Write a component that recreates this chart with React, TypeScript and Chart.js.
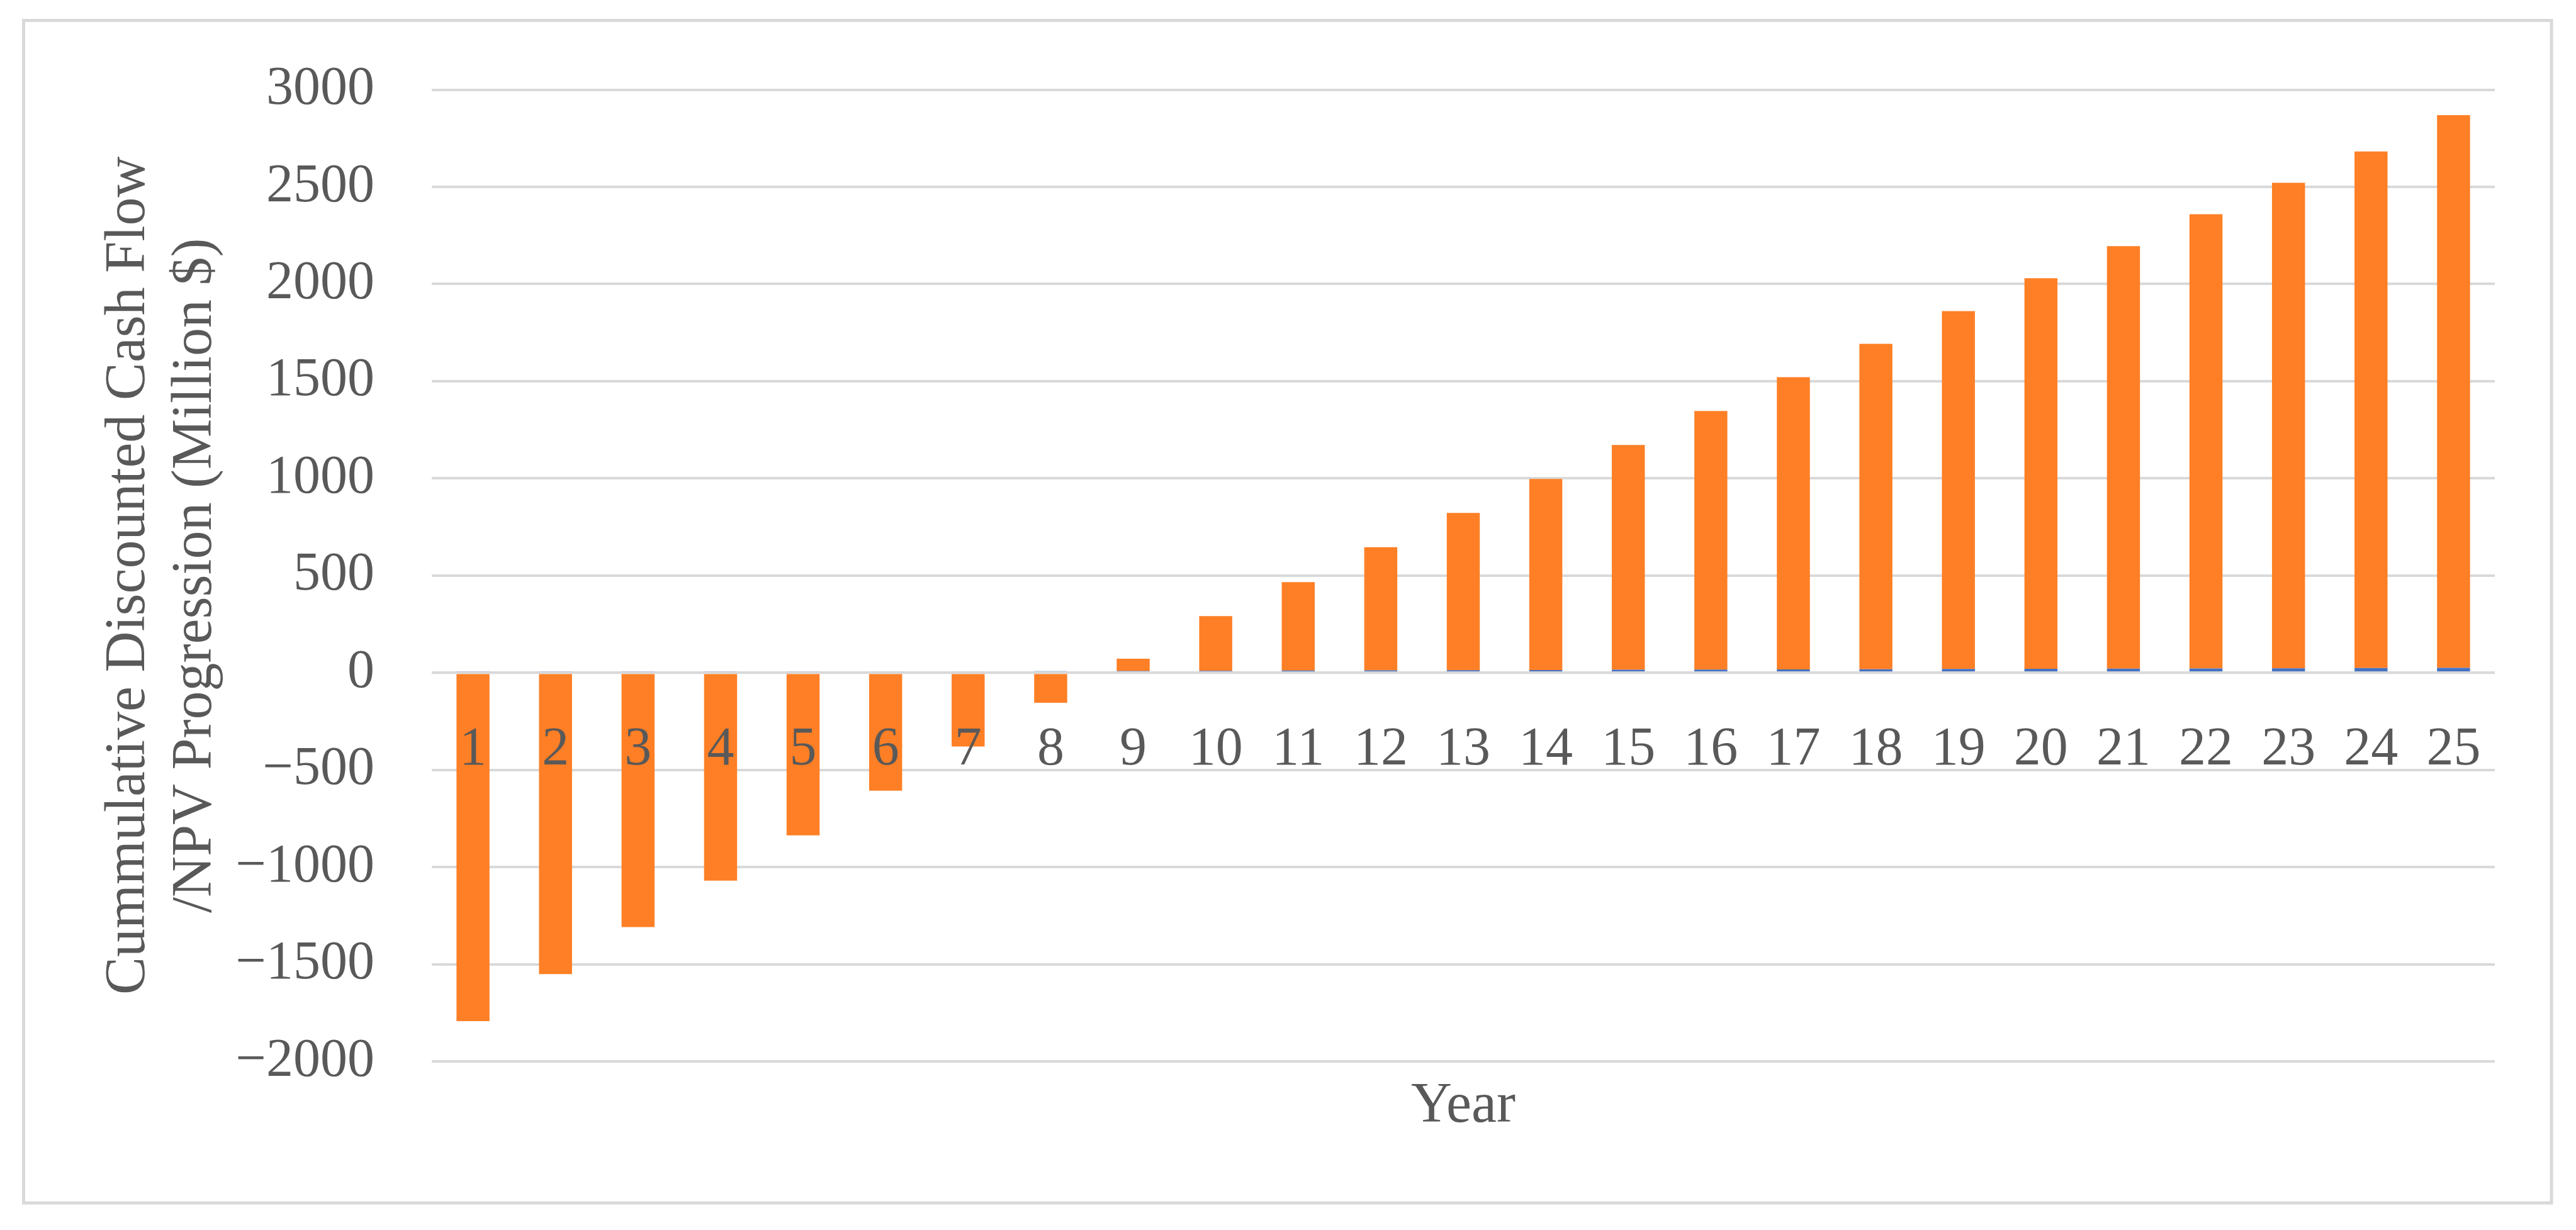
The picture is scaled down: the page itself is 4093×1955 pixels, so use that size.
import React, { useEffect, useRef } from 'react';
import { Chart, registerables } from 'chart.js';

Chart.register(...registerables);

// ---- data ----
const years = ['1', '2', '3', '4', '5', '6', '7', '8', '9', '10', '11', '12', '13', '14', '15', '16', '17', '18', '19', '20', '21', '22', '23', '24', '25'];
const yearSeries = [1, 2, 3, 4, 5, 6, 7, 8, 9, 10, 11, 12, 13, 14, 15, 16, 17, 18, 19, 20, 21, 22, 23, 24, 25];
const cumulativeDCF = [-1793, -1551, -1309, -1070, -837, -607, -380, -155, 63, 281, 455, 634, 809, 983, 1157, 1331, 1504, 1674, 1842, 2010, 2174, 2337, 2498, 2658, 2844];
const yMin = -2000;
const yMax = 3000;
const yStep = 500;
const yAxisTitle = ['Cummulative Discounted Cash Flow', '/NPV Progression (Million $)'];
const xAxisTitle = 'Year';

const W = 4093;
const H = 1955;
const FONT = 'Liberation Serif';
const TEXT = '#595959';
const GRID = '#d9d9d9';

const overlayPlugin = {
  id: 'overlay',
  beforeDraw(chart: any) {
    const ctx = chart.ctx;
    ctx.save();
    ctx.fillStyle = '#ffffff';
    ctx.fillRect(0, 0, chart.width, chart.height);
    ctx.strokeStyle = GRID;
    ctx.lineWidth = 5;
    ctx.strokeRect(37.5, 32.5, 4054 - 37.5, 1912 - 32.5);
    ctx.restore();
  },
  afterDatasetsDraw(chart: any) {
    const ctx = chart.ctx;
    const xs = chart.scales.x;
    const ys = chart.scales.y;
    const y0 = ys.getPixelForValue(0);
    ctx.save();
    // axis line over the bars
    ctx.strokeStyle = GRID;
    ctx.lineWidth = 4;
    ctx.beginPath();
    ctx.moveTo(chart.chartArea.left, y0);
    ctx.lineTo(chart.chartArea.right, y0);
    ctx.stroke();
    // category labels next to the axis
    ctx.fillStyle = TEXT;
    ctx.font = `86px "${FONT}"`;
    ctx.textAlign = 'center';
    ctx.textBaseline = 'alphabetic';
    years.forEach((lab, i) => {
      ctx.fillText(lab, xs.getPixelForTick(i), y0 + 146);
    });
    ctx.restore();
  },
};

export default function App() {
  const ref = useRef<HTMLCanvasElement | null>(null);

  useEffect(() => {
    if (!ref.current) return;
    const chart = new Chart(ref.current, {
      type: 'bar',
      data: {
        labels: years,
        datasets: [
          {
            label: 'Year',
            data: yearSeries,
            backgroundColor: '#4472C4',
            borderWidth: 0,
            barPercentage: 0.4,
            categoryPercentage: 1,
            stack: 's',
          },
          {
            label: 'Cumulative DCF',
            data: cumulativeDCF,
            backgroundColor: '#FE7F25',
            borderWidth: 0,
            barPercentage: 0.4,
            categoryPercentage: 1,
            stack: 's',
          },
        ],
      },
      options: {
        animation: false,
        responsive: false,
        devicePixelRatio: 1,
        layout: { padding: { left: 0, right: W - 3964, top: 125, bottom: 0 } },
        plugins: {
          legend: { display: false },
          tooltip: { enabled: false },
        },
        scales: {
          x: {
            stacked: true,
            grid: { display: false },
            border: { display: false },
            ticks: { display: false },
            title: {
              display: true,
              text: xAxisTitle,
              color: TEXT,
              font: { family: FONT, size: 90, lineHeight: 1.18 },
              padding: { top: 0, bottom: 143 },
            },
            afterFit(scale: any) {
              scale.height = H - 1687;
            },
          },
          y: {
            stacked: true,
            min: yMin,
            max: yMax,
            ticks: {
              stepSize: yStep,
              color: TEXT,
              padding: 91,
              font: { family: FONT, size: 86 },
              callback: (v: any) => (Number(v) < 0 ? '\u2212' + Math.abs(Number(v)) : String(v)),
            },
            grid: { color: GRID, lineWidth: 4, drawTicks: false },
            border: { display: false },
            title: {
              display: true,
              text: yAxisTitle,
              color: TEXT,
              font: { family: FONT, size: 90, lineHeight: 1.18 },
              padding: { top: 152, bottom: 0 },
            },
            afterFit(scale: any) {
              scale.width = 686;
            },
          },
        },
      },
      plugins: [overlayPlugin],
    });
    return () => chart.destroy();
  }, []);

  return (
    <div style={{ position: 'absolute', left: 0, top: 0, width: W, height: H, background: '#fff' }}>
      <canvas ref={ref} width={W} height={H} style={{ display: 'block' }} />
    </div>
  );
}
